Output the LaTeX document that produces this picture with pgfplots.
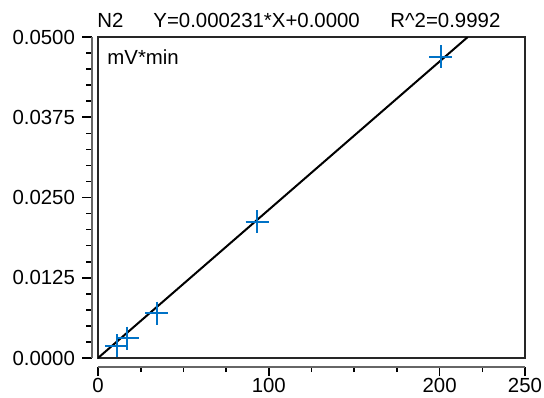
\documentclass[border=0pt]{standalone}
\usepackage{fontspec}
\setmainfont{Liberation Sans}
\usepackage{pgfplots}
\pgfplotsset{compat=1.18}
\definecolor{mkblue}{RGB}{0,114,198}
\begin{document}
\begin{tikzpicture}
\useasboundingbox (0,0) rectangle (272pt,198.5pt);
\pgfplotsset{common/.style={at={(49pt,19.5pt)},anchor=south west,width=213.5pt,height=160.5pt,scale only axis,xmin=0,xmax=250,ymin=0,ymax=0.05,
  /pgf/number format/assume math mode=true,
  scaled y ticks=false, scaled x ticks=false,
  ticklabel style={font=\fontsize{10.2}{12}\selectfont},
  tick style={black, line width=0.8pt},
  tick align=outside, major tick length=5pt, minor tick length=3pt}}
% main frame with data
\begin{axis}[common, xtick=\empty, ytick=\empty, axis line style={line width=1pt, black!85}]
\addplot[black, line width=1pt] coordinates {(0,0) (216.5,0.05)};
\addplot[only marks, mark=+, mark size=5.75pt, mkblue, line width=1pt] coordinates {(11.1,0.0019) (17.2,0.0031) (34.4,0.0070) (93.1,0.0212) (200.8,0.0469)};
\end{axis}
% detached y axis
\begin{axis}[common, xshift=-3pt, axis x line=none, axis y line*=left,
  y axis line style={line width=0.9pt, black!60},
  ytick={0,0.0125,0.025,0.0375,0.05},
  yticklabels={0.0000,0.0125,0.0250,0.0375,0.0500},
  minor y tick num=4]
\addplot[draw=none] coordinates {(0,0)};
\end{axis}
% detached x axis
\begin{axis}[common, yshift=-4.5pt, axis y line=none, axis x line*=bottom,
  x axis line style={line width=0.9pt, black!60},
  xtick={0,100,200,250},
  xticklabels={0,100,200,250},
  xticklabel style={yshift=2.5pt},
  minor xtick={25,50,75,125,150,175,225},
  minor tick length=2.5pt, major tick length=4.5pt]
\addplot[draw=none] coordinates {(0,0)};
\end{axis}
\node[anchor=base west, inner sep=0pt, font=\fontsize{10.2}{12}\selectfont] at (48.5pt,184.5pt) {N2};
\node[anchor=base west, inner sep=0pt, font=\fontsize{10.2}{12}\selectfont] at (76.5pt,184.5pt) {Y=0.000231*X+0.0000};
\node[anchor=base west, inner sep=0pt, font=\fontsize{10.2}{12}\selectfont] at (195pt,184.5pt) {R\textasciicircum 2=0.9992};
\node[anchor=base west, inner sep=0pt, font=\fontsize{10.2}{12}\selectfont] at (53.5pt,166pt) {mV*min};
\end{tikzpicture}
\end{document}
